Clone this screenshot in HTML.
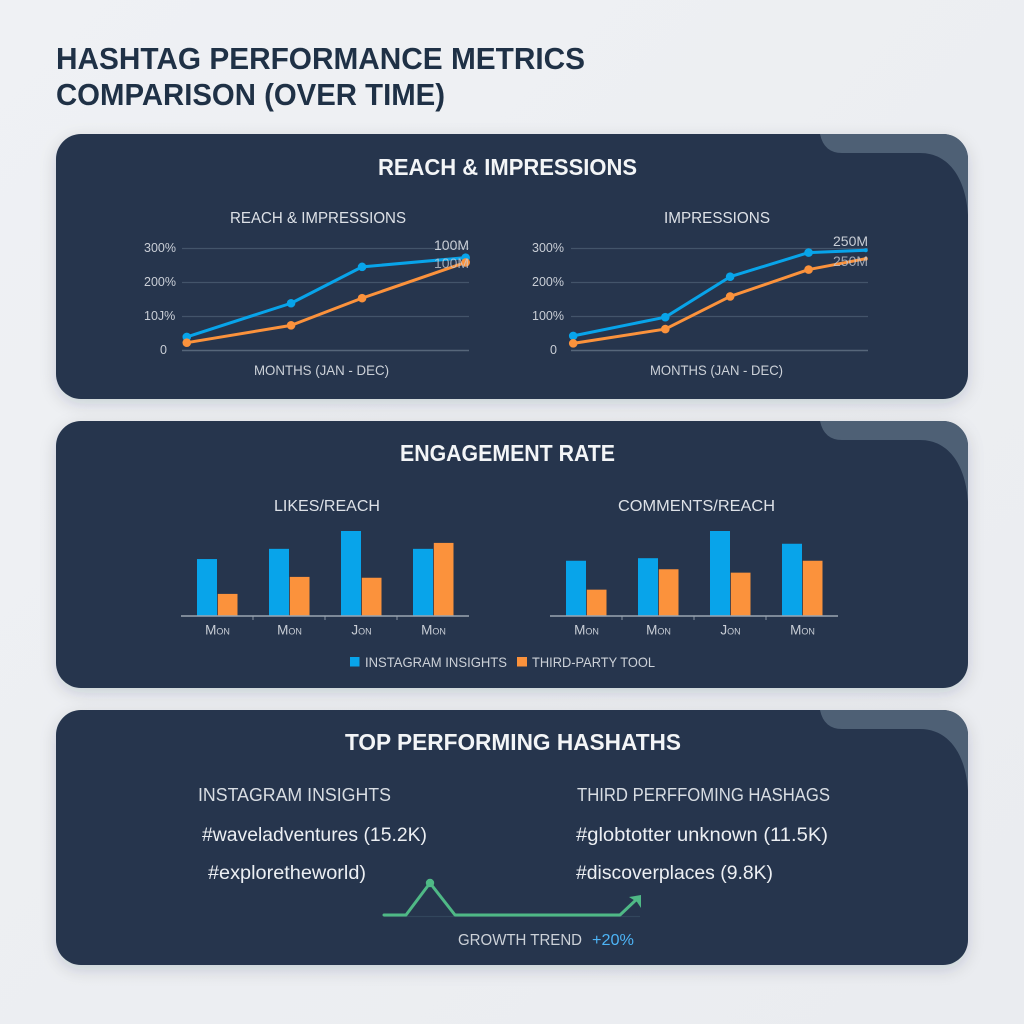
<!DOCTYPE html>
<html lang="en">
<head>
<meta charset="utf-8">
<title>Hashtag Performance Metrics Comparison</title>
<style>
html,body{margin:0;padding:0;width:1024px;height:1024px;overflow:hidden;background:#eef0f4}
svg{display:block}
text{font-family:"Liberation Sans",sans-serif}
.sub{font-size:16px;fill:#dde1e7}
.panel-title{font-size:23px;font-weight:700;fill:#f3f5f7}
.hash{font-size:19px;fill:#eceff3}
.head{font-size:18px;fill:#d8dde3}
.tick{font-size:12.5px;fill:#c9ced6}
.end-label{font-size:14px;fill:#c9ced6}
.axis-title{font-size:14px;fill:#ccd1d8}
.bar-label{font-size:13.5px;fill:#c9ced6}
.legend{font-size:14px;fill:#ccd1d8}
</style>
</head>
<body>
<svg id="page" xmlns="http://www.w3.org/2000/svg" width="1024" height="1024" viewBox="0 0 1024 1024">
  <defs>
    <linearGradient id="bg" x1="0" y1="0" x2="1" y2="1">
      <stop offset="0" stop-color="#eff1f4"/>
      <stop offset="1" stop-color="#eaecf0"/>
    </linearGradient>
    <filter id="soft" x="-5%" y="-10%" width="110%" height="125%">
      <feDropShadow dx="0" dy="5" stdDeviation="8" flood-color="#1c2a3c" flood-opacity="0.16"/>
    </filter>
    <clipPath id="clip1"><rect x="56" y="134" width="912" height="265" rx="25"/></clipPath>
    <clipPath id="clip2"><rect x="56" y="421" width="912" height="267" rx="25"/></clipPath>
    <clipPath id="clip3"><rect x="56" y="710" width="912" height="255" rx="25"/></clipPath>
  </defs>
  <rect width="1024" height="1024" fill="url(#bg)"/>

  <g font-size="31" font-weight="700" fill="#1f3146">
    <text x="56" y="69" textLength="529" lengthAdjust="spacingAndGlyphs">HASHTAG PERFORMANCE METRICS</text>
    <text x="56" y="105" textLength="389" lengthAdjust="spacingAndGlyphs">COMPARISON (OVER TIME)</text>
  </g>

  <g>
    <rect x="56" y="134" width="912" height="265" rx="25" fill="#25364d" filter="url(#soft)"/>
    <path clip-path="url(#clip1)" fill="#4e6075" d="M820 134Q824 153 842 153L920 153C950 153 966 180 968 215L968 130L820 130Z"/>
    <text class="panel-title" x="378" y="175" textLength="259" lengthAdjust="spacingAndGlyphs">REACH &amp; IMPRESSIONS</text>
    <text class="sub" x="230" y="223" textLength="176" lengthAdjust="spacingAndGlyphs">REACH &amp; IMPRESSIONS</text>
    <text class="sub" x="664" y="223" textLength="106" lengthAdjust="spacingAndGlyphs">IMPRESSIONS</text>
    <text class="axis-title" x="254" y="375" textLength="135" lengthAdjust="spacingAndGlyphs">MONTHS (JAN - DEC)</text>
    <text class="axis-title" x="650" y="375" textLength="133" lengthAdjust="spacingAndGlyphs">MONTHS (JAN - DEC)</text>
    <g id="reach-chart"></g>
    <g id="impressions-chart"></g>
  </g>

  <g>
    <rect x="56" y="421" width="912" height="267" rx="25" fill="#25364d" filter="url(#soft)"/>
    <path clip-path="url(#clip2)" fill="#4e6075" d="M820 421Q824 440 842 440L920 440C950 440 966 467 968 502L968 417L820 417Z"/>
    <text class="panel-title" x="400" y="461" textLength="215" lengthAdjust="spacingAndGlyphs">ENGAGEMENT RATE</text>
    <text class="sub" x="274" y="511" textLength="106" lengthAdjust="spacingAndGlyphs">LIKES/REACH</text>
    <text class="sub" x="618" y="511" textLength="157" lengthAdjust="spacingAndGlyphs">COMMENTS/REACH</text>
    <g id="likes-chart"></g>
    <g id="comments-chart"></g>
    <g>
      <rect x="350" y="657" width="9.5" height="9.5" fill="#08a4ea"/>
      <text class="legend" x="365" y="667" textLength="142" lengthAdjust="spacingAndGlyphs">INSTAGRAM INSIGHTS</text>
      <rect x="517" y="657" width="10" height="9.5" fill="#fb923c"/>
      <text class="legend" x="532" y="667" textLength="123" lengthAdjust="spacingAndGlyphs">THIRD-PARTY TOOL</text>
    </g>
  </g>

  <g>
    <rect x="56" y="710" width="912" height="255" rx="25" fill="#25364d" filter="url(#soft)"/>
    <path clip-path="url(#clip3)" fill="#4e6075" d="M820 710Q824 729 842 729L920 729C950 729 966 756 968 791L968 706L820 706Z"/>
    <text class="panel-title" x="345" y="750" textLength="336" lengthAdjust="spacingAndGlyphs">TOP PERFORMING HASHATHS</text>
    <text class="head" x="198" y="801" textLength="193" lengthAdjust="spacingAndGlyphs">INSTAGRAM INSIGHTS</text>
    <text class="head" x="577" y="801" textLength="253" lengthAdjust="spacingAndGlyphs">THIRD PERFFOMING HASHAGS</text>
    <text class="hash" x="202" y="841" textLength="225" lengthAdjust="spacingAndGlyphs">#waveladventures (15.2K)</text>
    <text class="hash" x="576" y="841" textLength="252" lengthAdjust="spacingAndGlyphs">#globtotter unknown (11.5K)</text>
    <text class="hash" x="208" y="879" textLength="158" lengthAdjust="spacingAndGlyphs">#exploretheworld)</text>
    <text class="hash" x="576" y="879" textLength="197" lengthAdjust="spacingAndGlyphs">#discoverplaces (9.8K)</text>
    <g id="trend-chart"></g>
    <text class="axis-title" style="font-size:16px" x="458" y="945" textLength="124" lengthAdjust="spacingAndGlyphs">GROWTH TREND</text>
    <text x="592" y="945" font-size="16" fill="#4db4f6" textLength="42" lengthAdjust="spacingAndGlyphs">+20%</text>
  </g>
</svg>

<script>
// Line charts: month position (0-12) and percent values
const reachMonths = [0.2, 4.56, 7.53, 11.86];
const reachInstagram = [40, 139, 246, 273];
const reachThirdParty = [23, 74, 154, 259];
const impressionsMonths = [0.09, 3.81, 6.43, 9.6, 11.91];
const impressionsInstagram = [43, 98, 217, 288, 295];
const impressionsThirdParty = [21, 63, 159, 238, 270];
const reachTicks = [0, 100, 200, 300];
const reachTickLabels = ['0', '10J%', '200%', '300%'];
const impressionsTickLabels = ['0', '100%', '200%', '300%'];
// Bar charts: relative engagement values
const barCategories = ['Mon', 'Mon', 'Jon', 'Mon'];
const likesInstagram = [67, 79, 100, 79];
const likesThirdParty = [26, 46, 45, 86];
const commentsInstagram = [65, 68, 100, 85];
const commentsThirdParty = [31, 55, 51, 65];
// Growth trend sparkline
const trendSteps = [0, 22, 46, 71, 236, 254];
const trendValues = [0, 0, 32, 0, 0, 17];

const SVGNS = 'http://www.w3.org/2000/svg';
const BLUE = '#08a4ea';
const ORANGE = '#fb923c';

function make(parent, tag, attrs, content) {
  const el = document.createElementNS(SVGNS, tag);
  for (const k in attrs) el.setAttribute(k, attrs[k]);
  if (content !== undefined) el.textContent = content;
  parent.appendChild(el);
  return el;
}

function drawLineChart(id, prefix, left, right, months, seriesA, seriesB, tickLabels, tickLabelX, labelX, labelsY, zeroX, showLastMarker) {
  const root = document.getElementById(id);
  const base = 350.5;
  const xScale = function (m) { return left + m / 12 * (right - left); };
  const yScale = function (v) { return base - v * 0.34; };

  reachTicks.forEach(function (t, i) {
    const grid = make(root, 'line', { x1: left, x2: right, y1: yScale(t), y2: yScale(t), stroke: i === 0 ? '#56667a' : '#43546a', 'stroke-width': i === 0 ? 1.5 : 1.2 });
    
    
    const label = make(root, 'text', { class: 'tick', x: i === 0 ? zeroX : tickLabelX, y: yScale(t) + 3.5 }, tickLabels[i]);
    
    
  });

  const endA = make(root, 'text', { class: 'end-label', x: labelX, y: labelsY[0] }, prefix === 'reach' ? '100M' : '250M');
  
  

  [[seriesA, BLUE, 'instagram'], [seriesB, ORANGE, 'third-party']].forEach(function (s) {
    const pts = s[0].map(function (v, i) { return xScale(months[i]) + ',' + yScale(v); }).join(' ');
    const line = make(root, 'polyline', { points: pts, fill: 'none', stroke: s[1], 'stroke-width': 3, 'stroke-linejoin': 'round', 'stroke-linecap': 'round' });
    
    
    s[0].forEach(function (v, i) {
      const isLast = i === s[0].length - 1;
      const dot = make(root, 'circle', { cx: xScale(months[i]), cy: yScale(v), r: isLast && !showLastMarker ? 2 : 4.3, fill: s[1] });
      
      
    });
  });

  const endB = make(root, 'text', { class: 'end-label', x: labelX, y: labelsY[1], opacity: 0.75 }, prefix === 'reach' ? '100M' : '250M');
  
  
}

function drawBarChart(id, prefix, left, right, seriesA, seriesB) {
  const root = document.getElementById(id);
  const base = 616;
  const band = (right - left) / barCategories.length;
  const xScale = function (i) { return left + band * (i + 0.5); };
  const yScale = function (v) { return base - v * 0.85; };

  barCategories.forEach(function (c, i) {
    const cx = xScale(i);
    const barA = make(root, 'rect', { x: cx - 20, y: yScale(seriesA[i]), width: 20, height: base - yScale(seriesA[i]), fill: BLUE });
    
    
    const barB = make(root, 'rect', { x: cx + 0.8, y: yScale(seriesB[i]), width: 19.7, height: base - yScale(seriesB[i]), fill: ORANGE });
    
    
    const label = make(root, 'text', { class: 'bar-label', x: cx + 0.5, y: 634.5, 'text-anchor': 'middle', style: 'font-variant:small-caps' }, c);
    
    
    if (i > 0) {
      const tick = make(root, 'line', { x1: cx - band / 2, x2: cx - band / 2, y1: 616, y2: 620, stroke: '#8995a4', 'stroke-width': 1 });
      
      
    }
  });
  const axis = make(root, 'line', { x1: left, x2: right, y1: base, y2: base, stroke: '#9aa5b2', 'stroke-width': 1.5 });
  
  
}

function drawTrend() {
  const root = document.getElementById('trend-chart');
  const xScale = function (s) { return 384 + s; };
  const yScale = function (v) { return 915 - v; };
  const green = '#4fb986';
  const baseLine = make(root, 'line', { x1: 384, x2: 640, y1: 916.5, y2: 916.5, stroke: '#32465c', 'stroke-width': 1.2 });
  
  
  const pts = trendValues.map(function (v, i) { return xScale(trendSteps[i]) + ',' + yScale(v); }).join(' ');
  const line = make(root, 'polyline', { points: pts, fill: 'none', stroke: green, 'stroke-width': 3, 'stroke-linejoin': 'round', 'stroke-linecap': 'round' });
  
  
  const peak = trendValues.indexOf(Math.max.apply(null, trendValues));
  const dot = make(root, 'circle', { cx: xScale(trendSteps[peak]), cy: yScale(trendValues[peak]), r: 4.2, fill: green });
  
  
  const n = trendValues.length - 1;
  const ex = xScale(trendSteps[n]);
  const ey = yScale(trendValues[n]);
  const head = make(root, 'path', { d: 'M' + (ex - 9) + ' ' + (ey - 1) + 'L' + (ex + 3) + ' ' + (ey - 3) + 'L' + (ex + 3) + ' ' + (ey + 10) + 'L' + (ex - 1) + ' ' + (ey + 4) + 'Z', fill: green });
  
  
}

drawLineChart('reach-chart', 'reach', 182, 469, reachMonths, reachInstagram, reachThirdParty, reachTickLabels, 144, 434, [250, 268], 160, true);
drawLineChart('impressions-chart', 'impressions', 571, 868, impressionsMonths, impressionsInstagram, impressionsThirdParty, impressionsTickLabels, 532, 833, [246, 266], 550, false);
drawBarChart('likes-chart', 'likes', 181, 469, likesInstagram, likesThirdParty);
drawBarChart('comments-chart', 'comments', 550, 838, commentsInstagram, commentsThirdParty);
drawTrend();
</script>
</body>
</html>
